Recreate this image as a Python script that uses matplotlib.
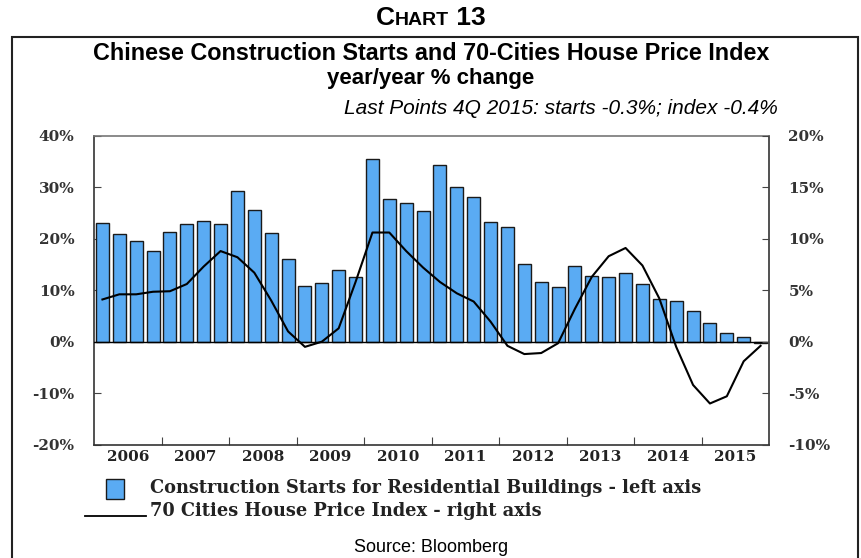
import numpy as np
import matplotlib
matplotlib.use("Agg")
import matplotlib.pyplot as plt
from matplotlib.patches import Rectangle
from matplotlib.lines import Line2D
from matplotlib.offsetbox import TextArea, HPacker, AnnotationBbox

# quarterly data 2006Q1 .. 2015Q4
years = ["2006", "2007", "2008", "2009", "2010", "2011", "2012", "2013", "2014", "2015"]
starts = [23.0, 21.0, 19.6, 17.6, 21.3, 22.8, 23.5, 22.8, 29.3, 25.6,
          21.2, 16.0, 10.9, 11.4, 14.0, 12.5, 35.4, 27.7, 26.9, 25.4,
          34.4, 30.0, 28.1, 23.3, 22.2, 15.0, 11.5, 10.6, 14.7, 12.8,
          12.5, 13.4, 11.3, 8.2, 8.0, 6.0, 3.7, 1.7, 0.9, -0.3]
price_index = [4.1, 4.6, 4.6, 4.85, 4.9, 5.6, 7.3, 8.8, 8.2, 6.7,
               4.0, 1.0, -0.5, 0.0, 1.3, 5.8, 10.6, 10.6, 8.8, 7.2,
               5.8, 4.7, 3.9, 1.95, -0.4, -1.2, -1.1, -0.15, 3.2, 6.3,
               8.3, 9.1, 7.4, 4.2, -0.5, -4.2, -6.0, -5.3, -1.9, -0.4]
left_ticks = [-20, -10, 0, 10, 20, 30, 40]
right_ticks = [-10, -5, 0, 5, 10, 15, 20]

W, H = 862, 558
fig = plt.figure(figsize=(W / 100, H / 100), dpi=100)

def fx(px):
    return px / W

def fy(py):
    return 1 - py / H

ax = fig.add_axes([fx(94), fy(444.7), fx(769) - fx(94), fy(135.7) - fy(444.7)])
x = np.arange(len(starts))
ax.bar(x, starts, width=0.77, color="#5aabf3", edgecolor="#1a1a1a", linewidth=1.0, zorder=2)
ax.axhline(0, color="black", lw=1.0, zorder=3)
ax.set_xlim(-0.5, len(starts) - 0.5)
ax.set_ylim(-20, 40)

serif = "DejaVu Serif"
ax.set_yticks(left_ticks)
ax.set_yticklabels([f"{t}%" for t in left_ticks], family=serif, fontsize=11, fontweight="bold", color="#333333")
ax.tick_params(axis="y", direction="in", length=5, width=0.8, pad=14, colors="#444444", labelcolor="#333333")

# year boundaries as ticks, year names centred between them
ax.set_xticks(np.arange(3.5, 36, 4))
ax.set_xticklabels([])
ax.tick_params(axis="x", which="major", direction="in", length=6, width=0.8, colors="#444444")
ax.set_xticks(np.arange(1.5, 40, 4), minor=True)
ax.set_xticklabels(years, minor=True, family=serif, fontsize=11, fontweight="bold", color="#222222")
ax.tick_params(axis="x", which="minor", length=0, pad=4)

for s in ax.spines.values():
    s.set_color("#333333")
    s.set_linewidth(1.2)
ax.spines["top"].set_color("#777777")

ax2 = ax.twinx()
ax2.plot(x, price_index, color="black", lw=1.5, zorder=4)
ax2.set_ylim(-10, 20)
ax2.set_yticks(right_ticks)
ax2.set_yticklabels([f"{t}%" for t in right_ticks], family=serif, fontsize=11, fontweight="bold", color="#333333")
ax2.tick_params(axis="y", direction="in", length=5, width=0.8, pad=14, colors="#444444", labelcolor="#333333")
for s in ax2.spines.values():
    s.set_visible(False)

# outer frame
fig.patches.append(Rectangle((fx(12), fy(600)), fx(858) - fx(12), fy(37) - fy(600),
                             transform=fig.transFigure, fill=False, ec="#222222", lw=1.5, clip_on=False))

# "CHART 13" in small caps
parts = [TextArea("C", textprops=dict(fontsize=19, fontweight="bold", family="Liberation Sans")),
         TextArea("HART", textprops=dict(fontsize=14, fontweight="bold", family="Liberation Sans")),
         TextArea(" 13", textprops=dict(fontsize=19, fontweight="bold", family="Liberation Sans"))]
box = HPacker(children=parts, align="baseline", pad=0, sep=0)
fig.add_artist(AnnotationBbox(box, (0.5, fy(18)), xycoords="figure fraction", frameon=False))

fig.text(0.5, fy(54), "Chinese Construction Starts and 70-Cities House Price Index",
         ha="center", va="center", fontsize=16.8, fontweight="bold", family="Liberation Sans")
fig.text(0.5, fy(79), "year/year % change", ha="center", va="center",
         fontsize=16, fontweight="bold", family="Liberation Sans")
fig.text(fx(778), fy(108), "Last Points 4Q 2015: starts -0.3%; index -0.4%", ha="right", va="center",
         fontsize=15, style="italic", family="Liberation Sans")

# legend
fig.patches.append(Rectangle((fx(106), fy(499)), fx(124) - fx(106), fy(479) - fy(499),
                             transform=fig.transFigure, fc="#5aabf3", ec="#1a1a1a", lw=1.0))
fig.text(fx(150), fy(488), "Construction Starts for Residential Buildings - left axis",
         ha="left", va="center", fontsize=12.8, fontweight="bold", family=serif, color="#222222")
fig.add_artist(Line2D([fx(85), fx(146)], [fy(516), fy(516)], transform=fig.transFigure, color="black", lw=1.3))
fig.text(fx(150), fy(511), "70 Cities House Price Index - right axis",
         ha="left", va="center", fontsize=12.8, fontweight="bold", family=serif, color="#222222")
fig.text(0.5, fy(548), "Source: Bloomberg", ha="center", va="center", fontsize=13, family="Liberation Sans")

fig.savefig("out.png", dpi=100)
